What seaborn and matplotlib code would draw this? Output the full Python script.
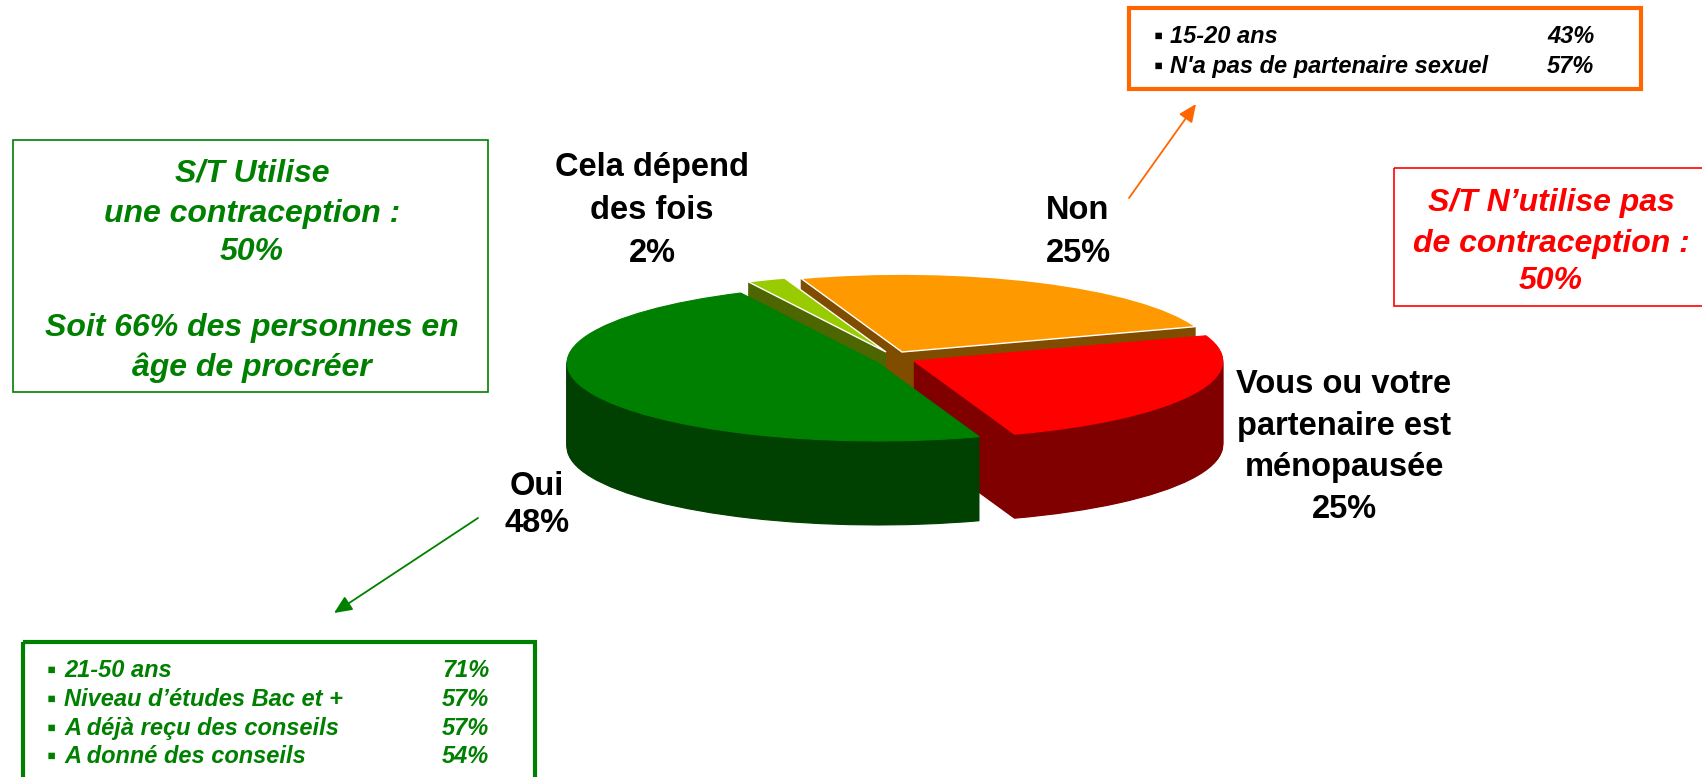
import matplotlib
matplotlib.use("Agg")
import matplotlib.pyplot as plt
from matplotlib.patches import Rectangle
import seaborn as sns

# ---- data ----
slice_names = ["Vous ou votre\npartenaire est\nménopausée", "Non", "Cela dépend\ndes fois", "Oui"]
slice_values = [25, 25, 2, 48]
top_colors = ["#FF0000", "#FF9900", "#99CC00", "#008000"]
wall_colors = ["#800000", "#804D00", "#4D6600", "#004000"]

oui_rows = ["21-50 ans", "Niveau d’études Bac et +", "A déjà reçu des conseils", "A donné des conseils"]
oui_pcts = [71, 57, 57, 54]
non_rows = ["15-20 ans", "N'a pas de partenaire sexuel"]
non_pcts = [43, 57]

left_note = ["S/T Utilise", "une contraception :", "50%", "", "Soit 66% des personnes en", "âge de procréer"]
right_note = ["S/T N’utilise pas", "de contraception :", "50%"]

# ---- layout (pixels) ----
W, H = 1702, 777
A, B = 315.0, 79.0          # ellipse semi axes of a unit pie
DEPTH = 84
START = -71
centers = [(914, 361), (902, 352), (886, 352), (878, 363)]
radii = [0.98, 0.985, 0.99, 0.987]
draw_order = [1, 2, 0, 3]

sns.set_theme(style="white")
plt.rcParams["font.family"] = ["Liberation Sans", "DejaVu Sans"]

fig = plt.figure(figsize=(W / 100, H / 100), dpi=100, facecolor="white")
ax = fig.add_axes([0, 0, 1, 1])


def to_data(px, py):
    return px / A, (H - py) / B


starts = []
acc = START
for v in slice_values:
    starts.append(acc)
    acc += v * 3.6


def wedge(i, dy, color, edge=None):
    v = slice_values[i]
    cx, cy = centers[i]
    ax.pie([v, 100 - v], colors=[color, "none"], startangle=starts[i], counterclock=True,
           center=to_data(cx, cy + dy), radius=radii[i], normalize=True,
           wedgeprops=dict(linewidth=1 if edge else 0.8, edgecolor=edge or "none"))
    ax.patches[-2].set_edgecolor(edge or color)
    ax.patches[-1].set_edgecolor("none")


for i in draw_order:
    for d in range(DEPTH, 0, -1):
        wedge(i, d, wall_colors[i])
    wedge(i, 0, top_colors[i], edge="white" if i in (1, 2) else None)

ax.set_aspect("auto")
ax.set_xlim(0, W / A)
ax.set_ylim(0, H / B)
ax.axis("off")

# overlay in pixel coordinates for annotations
ov = fig.add_axes([0, 0, 1, 1], facecolor="none")
ov.set_xlim(0, W)
ov.set_ylim(H, 0)
ov.axis("off")
sns.despine(ax=ov, left=True, bottom=True)

LAB = 23.5
label_pos = [(1344, [393, 435, 476, 518]), (1078, [219, 262]), (652, [176, 219, 262]), (537, [495, 532])]
for name, v, (x, ys) in zip(slice_names, slice_values, label_pos):
    for line, y in zip(name.split("\n") + [f"{v}%"], ys):
        ov.text(x, y, line, ha="center", va="baseline", fontsize=LAB, fontweight="bold", color="black")

for line, y in zip(left_note, [181, 222, 260, 298, 336, 376]):
    ov.text(252, y, line, ha="center", va="baseline", fontsize=23, fontweight="bold",
            fontstyle="italic", color="#008000")
for line, y in zip(right_note, [211, 252, 289]):
    ov.text(1551, y, line, ha="center", va="baseline", fontsize=23, fontweight="bold",
            fontstyle="italic", color="#FF0000")

ov.add_patch(Rectangle((13, 140), 475, 252, fill=False, ec="#008000", lw=1.2))
ov.add_patch(Rectangle((1394, 168), 320, 138, fill=False, ec="#FF0000", lw=1.2, clip_on=True))
ov.add_patch(Rectangle((1129, 8), 512, 81, fill=False, ec="#FF6600", lw=3))
ov.add_patch(Rectangle((23, 642), 512, 160, fill=False, ec="#008000", lw=3, clip_on=True))

for row, p, y in zip(non_rows, non_pcts, [43, 73]):
    ov.text(1158, y - 6, "▪", ha="center", va="center", fontsize=19, fontweight="bold", color="black")
    ov.text(1170, y, row, ha="left", va="baseline", fontsize=17, fontweight="bold", fontstyle="italic", color="black")
    ov.text(1547, y, f"{p}%", ha="left", va="baseline", fontsize=17, fontweight="bold", fontstyle="italic", color="black")

for row, p, y in zip(oui_rows, oui_pcts, [677, 706, 735, 763]):
    ov.text(51, y - 6, "▪", ha="center", va="center", fontsize=19, fontweight="bold", color="#008000")
    ov.text(64, y, row, ha="left", va="baseline", fontsize=17, fontweight="bold", fontstyle="italic", color="#008000")
    ov.text(442, y, f"{p}%", ha="left", va="baseline", fontsize=17, fontweight="bold", fontstyle="italic", color="#008000")

ov.annotate("", xy=(1196, 104), xytext=(1129, 198),
            arrowprops=dict(arrowstyle="-|>,head_length=0.9,head_width=0.4", color="#FF6600", lw=1.3,
                            shrinkA=0, shrinkB=0))
ov.annotate("", xy=(334, 613), xytext=(478, 518),
            arrowprops=dict(arrowstyle="-|>,head_length=0.9,head_width=0.4", color="#008000", lw=1.3,
                            shrinkA=0, shrinkB=0))

fig.savefig("out.png", dpi=100)
